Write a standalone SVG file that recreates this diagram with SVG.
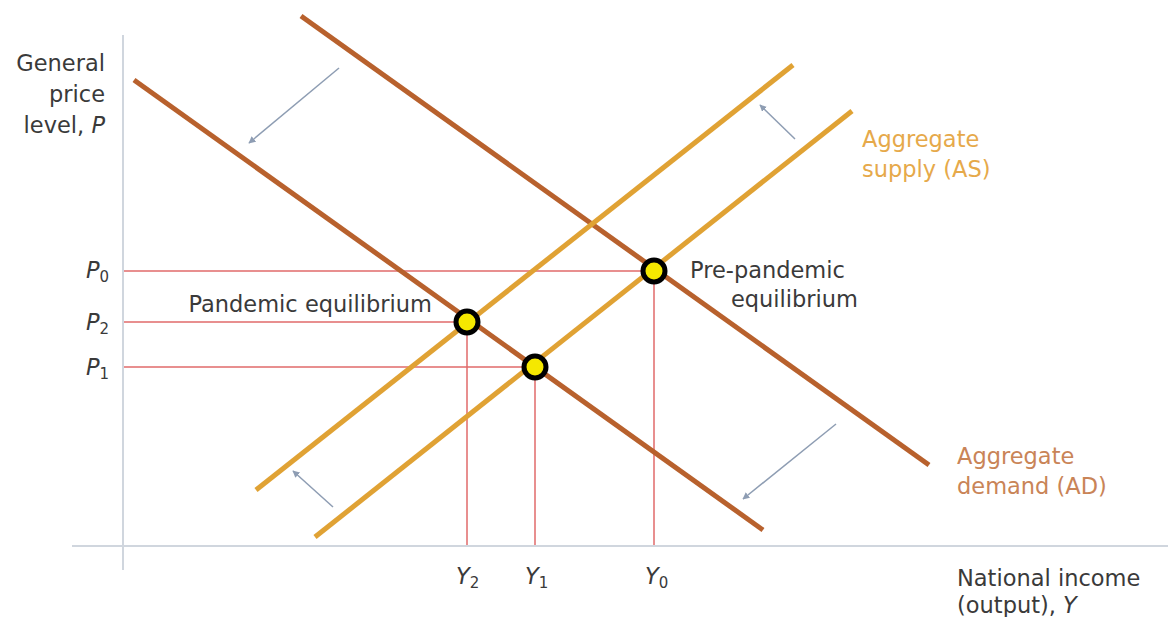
<svg xmlns="http://www.w3.org/2000/svg" width="1168" height="617" viewBox="0 0 1168 617">
<defs>
<style>
.t{font-family:"DejaVu Sans","Liberation Sans",Arial,sans-serif;font-size:22.5px;fill:#3a3a3a}
.ad{stroke:#b8612d;stroke-width:5;fill:none;stroke-linecap:butt}
.as{stroke:#e0a234;stroke-width:5;fill:none}
.ref{stroke:#e06a6a;stroke-width:1.5;fill:none}
.ax{stroke:#d0d6de;stroke-width:2;fill:none}
.sh{stroke:#8e9db3;stroke-width:1.5;fill:none;marker-end:url(#ah)}
.eq{fill:#f5e800;stroke:#000;stroke-width:5}
</style>
<marker id="ah" viewBox="0 0 10 10" refX="9" refY="5" markerWidth="7" markerHeight="7" orient="auto" markerUnits="userSpaceOnUse">
<path d="M0,0 L10,5 L0,10 z" fill="#8e9db3"/>
</marker>
</defs>
<rect width="1168" height="617" fill="#fff"/>
<g id="axes">
<line class="ax" x1="123" y1="35" x2="123" y2="570"/>
<line class="ax" x1="72" y1="546" x2="1168" y2="546"/>
</g>
<g id="connectors">
<line class="ref" x1="124" y1="271" x2="654" y2="271"/>
<line class="ref" x1="124" y1="322" x2="467" y2="322"/>
<line class="ref" x1="124" y1="367" x2="535" y2="367"/>
<line class="ref" x1="654" y1="271" x2="654" y2="545"/>
<line class="ref" x1="467" y1="322" x2="467" y2="545"/>
<line class="ref" x1="535" y1="367" x2="535" y2="545"/>
<line class="ad" x1="301" y1="16" x2="929" y2="465"/>
<line class="ad" x1="134" y1="80" x2="763" y2="530"/>
<line class="as" x1="256" y1="490" x2="793" y2="65"/>
<line class="as" x1="315" y1="537" x2="852" y2="111"/>
<line class="sh" x1="339" y1="68" x2="249" y2="143"/>
<line class="sh" x1="333" y1="507" x2="293" y2="471"/>
<line class="sh" x1="836" y1="424" x2="743" y2="499"/>
<line class="sh" x1="795" y1="139" x2="760" y2="105"/>
</g>
<g id="eq-pre"><circle class="eq" cx="654" cy="271" r="11"/></g>
<g id="eq-pandemic"><circle class="eq" cx="467" cy="322" r="11"/></g>
<g id="eq-y1"><circle class="eq" cx="535" cy="367" r="11"/></g>
<g id="labels">
<text class="t" x="105" y="71" text-anchor="end">General</text>
<text class="t" x="105" y="102" text-anchor="end">price</text>
<text class="t" x="105" y="133" text-anchor="end">level, <tspan font-style="italic">P</tspan></text>
<text class="t" x="86" y="278" font-style="italic">P<tspan font-size="15" dy="4" font-style="normal">0</tspan></text>
<text class="t" x="86" y="330" font-style="italic">P<tspan font-size="15" dy="4" font-style="normal">2</tspan></text>
<text class="t" x="86" y="375" font-style="italic">P<tspan font-size="15" dy="4" font-style="normal">1</tspan></text>
<text class="t" x="456" y="584" font-style="italic">Y<tspan font-size="15" dy="4" font-style="normal">2</tspan></text>
<text class="t" x="525" y="584" font-style="italic">Y<tspan font-size="15" dy="4" font-style="normal">1</tspan></text>
<text class="t" x="645" y="584" font-style="italic">Y<tspan font-size="15" dy="4" font-style="normal">0</tspan></text>
<text class="t" x="432" y="312" text-anchor="end">Pandemic equilibrium</text>
<text class="t" x="690" y="278">Pre-pandemic</text>
<text class="t" x="858" y="307" text-anchor="end">equilibrium</text>
<text class="t" x="862" y="147" style="fill:#e6a94a">Aggregate</text>
<text class="t" x="862" y="177" style="fill:#e6a94a">supply (AS)</text>
<text class="t" x="957" y="464" style="fill:#c98457">Aggregate</text>
<text class="t" x="957" y="494" style="fill:#c98457">demand (AD)</text>
<text class="t" x="957" y="586">National income</text>
<text class="t" x="957" y="613">(output), <tspan font-style="italic">Y</tspan></text>
</g>
</svg>
